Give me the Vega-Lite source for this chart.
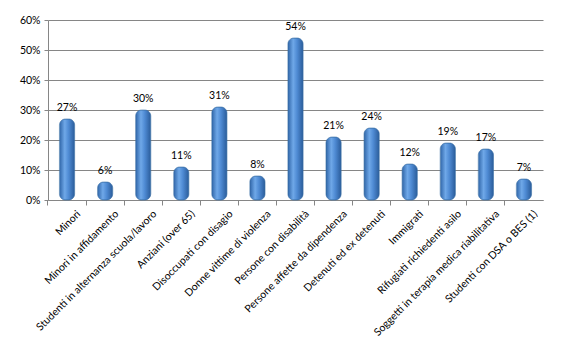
{
  "$schema": "https://vega.github.io/schema/vega-lite/v6.json",
  "autosize": "none",
  "width": 495,
  "height": 180,
  "padding": {"left": 48, "top": 20, "right": 19, "bottom": 151},
  "background": "white",
  "config": {
    "font": "Lato",
    "view": {"stroke": null},
    "axis": {"labelFont": "Lato", "labelColor": "#000", "labelFontSize": 10.5}
  },
  "data": {
    "values": [
      {"cat": "Minori", "v": 0.27},
      {"cat": "Minori in affidamento", "v": 0.06},
      {"cat": "Studenti in alternanza scuola/lavoro", "v": 0.30},
      {"cat": "Anziani (over 65)", "v": 0.11},
      {"cat": "Disoccupati con disagio", "v": 0.31},
      {"cat": "Donne vittime di violenza", "v": 0.08},
      {"cat": "Persone con disabilità", "v": 0.54},
      {"cat": "Persone affette da dipendenza", "v": 0.21},
      {"cat": "Detenuti ed ex detenuti", "v": 0.24},
      {"cat": "Immigrati", "v": 0.12},
      {"cat": "Rifugiati richiedenti asilo", "v": 0.19},
      {"cat": "Soggetti in terapia medica riabilitativa", "v": 0.17},
      {"cat": "Studenti con DSA o BES (1)", "v": 0.07}
    ]
  },
  "encoding": {
    "x": {
      "field": "cat", "type": "nominal", "sort": null, "title": null,
      "scale": {"paddingInner": 0.6, "paddingOuter": 0.3},
      "axis": {
        "labelAngle": -45, "labelAlign": "right", "labelBaseline": "middle",
        "labelPadding": 7, "bandPosition": -0.75, "labelOffset": 12,
        "tickColor": "#868686", "domainColor": "#868686",
        "tickSize": 5, "labelLimit": 300
      }
    },
    "y": {
      "field": "v", "type": "quantitative", "title": null,
      "scale": {"domain": [0, 0.6], "nice": false},
      "axis": {
        "format": ".0%", "values": [0, 0.1, 0.2, 0.3, 0.4, 0.5, 0.6],
        "labelOverlap": false,
        "gridColor": "#868686", "gridWidth": 1, "domainColor": "#868686",
        "tickColor": "#868686", "tickSize": 4, "labelPadding": 4
      }
    }
  },
  "layer": [
    {
      "mark": {
        "type": "bar",
        "cornerRadiusTopLeft": 6, "cornerRadiusTopRight": 6,
        "cornerRadiusBottomLeft": 6, "cornerRadiusBottomRight": 6,
        "stroke": "#3a6ea5", "strokeWidth": 0.6,
        "color": {
          "gradient": "linear", "x1": 0, "x2": 1, "y1": 0, "y2": 0,
          "stops": [
            {"offset": 0, "color": "#2f65a8"},
            {"offset": 0.35, "color": "#6fa8e8"},
            {"offset": 0.6, "color": "#4f8bd4"},
            {"offset": 1, "color": "#2a5c9a"}
          ]
        }
      }
    },
    {
      "mark": {"type": "text", "dy": -11, "fontSize": 10.5, "font": "Lato", "color": "#000"},
      "encoding": {"text": {"field": "v", "type": "quantitative", "format": ".0%"}}
    }
  ]
}
